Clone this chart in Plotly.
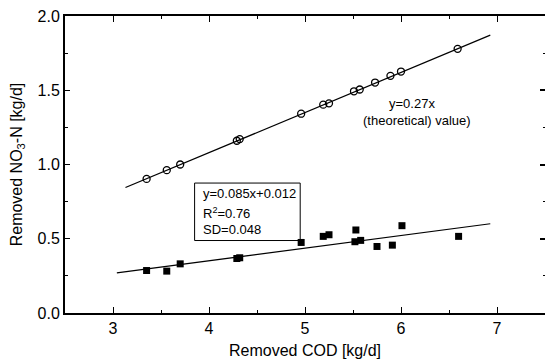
import plotly.graph_objects as go

# ---- data ----
cod = [3.35, 3.56, 3.70, 4.29, 4.32, 4.96, 5.19, 5.25, 5.51, 5.57, 5.73, 5.89, 6.00, 6.59]
theoretical_no3 = [0.903, 0.962, 1.000, 1.160, 1.171, 1.342, 1.403, 1.412, 1.493, 1.505, 1.552, 1.597, 1.626, 1.779]

cod_meas = [3.35, 3.56, 3.70, 4.29, 4.32, 4.96, 5.19, 5.25, 5.53, 5.52, 5.58, 5.75, 5.91, 6.01, 6.60]
measured_no3 = [0.286, 0.282, 0.331, 0.367, 0.372, 0.475, 0.516, 0.527, 0.559, 0.480, 0.489, 0.448, 0.457, 0.588, 0.516]

theo_slope = 0.27
theo_x = [3.13, 6.93]
fit_slope, fit_icpt = 0.085, 0.012
fit_x = [3.04, 6.93]

xticks = [3, 4, 5, 6, 7]
yticks = [0.0, 0.5, 1.0, 1.5, 2.0]

FONT = "Liberation Sans, Arial, sans-serif"

fig = go.Figure()
fig.add_trace(go.Scatter(x=theo_x, y=[theo_slope * v for v in theo_x], mode="lines",
                         line=dict(color="black", width=1.2), showlegend=False))
fig.add_trace(go.Scatter(x=fit_x, y=[fit_slope * v + fit_icpt for v in fit_x], mode="lines",
                         line=dict(color="black", width=1.2), showlegend=False))
fig.add_trace(go.Scatter(x=cod, y=theoretical_no3, mode="markers",
                         marker=dict(symbol="circle-open", size=7, color="black", line=dict(width=1.3)),
                         showlegend=False))
fig.add_trace(go.Scatter(x=cod_meas, y=measured_no3, mode="markers",
                         marker=dict(symbol="square", size=7, color="black"),
                         showlegend=False))
# transparent copy on the right-hand axis so that its ticks are drawn
fig.add_trace(go.Scatter(x=cod_meas, y=measured_no3, yaxis="y2", mode="markers",
                         marker=dict(size=1, opacity=0), showlegend=False, hoverinfo="skip"))

fig.update_layout(
    width=545, height=363,
    margin=dict(l=65, r=0, t=16, b=50),
    paper_bgcolor="white", plot_bgcolor="white",
    font=dict(family=FONT, color="black", size=16),
    xaxis=dict(range=[2.5, 7.5], tickvals=xticks, ticktext=[str(v) for v in xticks],
               showline=True, linecolor="black", linewidth=2, mirror="ticks",
               ticks="inside", ticklen=6, tickwidth=1.2, tickcolor="black",
               minor=dict(ticks="inside", dtick=0.5, ticklen=3, tickwidth=1, tickcolor="black"),
               showgrid=False, zeroline=False,
               tickfont=dict(size=16),
               title=dict(text="Removed COD [kg/d]", font=dict(size=16), standoff=9)),
    yaxis=dict(range=[0, 2.0], tickvals=yticks, ticktext=[f"{v:.1f}" for v in yticks],
               showline=True, linecolor="black", linewidth=2,
               ticks="inside", ticklen=5, tickwidth=1.2, tickcolor="black",
               minor=dict(ticks="inside", dtick=0.25, ticklen=3, tickwidth=1, tickcolor="black"),
               showgrid=False, zeroline=False,
               tickfont=dict(size=16),
               title=dict(text="Removed NO<sub>3</sub>-N [kg/d]", font=dict(size=16), standoff=11)),
    yaxis2=dict(range=[0, 2.0], overlaying="y", side="right", anchor="x", showline=False,
                tickvals=yticks, showticklabels=False,
                ticks="inside", ticklen=5, tickwidth=1.5, tickcolor="black",
                minor=dict(ticks="inside", dtick=0.25, ticklen=2, tickwidth=1, tickcolor="black"),
                showgrid=False, zeroline=False),
)

# annotation box
fig.add_shape(type="rect", x0=3.85, x1=4.95, y0=0.488, y1=0.875, xref="x", yref="y",
              line=dict(color="black", width=1), fillcolor="white", layer="below")
box_lines = ["y=0.085x+0.012", "R<sup>2</sup>=0.76", "SD=0.048"]
box_y = [0.806, 0.671, 0.559]
for t, yy in zip(box_lines, box_y):
    fig.add_annotation(x=3.92, y=yy, text=t, showarrow=False, xanchor="left", yanchor="middle",
                       font=dict(size=13, family=FONT, color="black"))

fig.add_annotation(x=6.115, y=1.412, text="y=0.27x", showarrow=False,
                   font=dict(size=13, family=FONT, color="black"))
fig.add_annotation(x=6.17, y=1.295, text="(theoretical) value)", showarrow=False,
                   font=dict(size=13, family=FONT, color="black"))

fig.write_html("out.html")
